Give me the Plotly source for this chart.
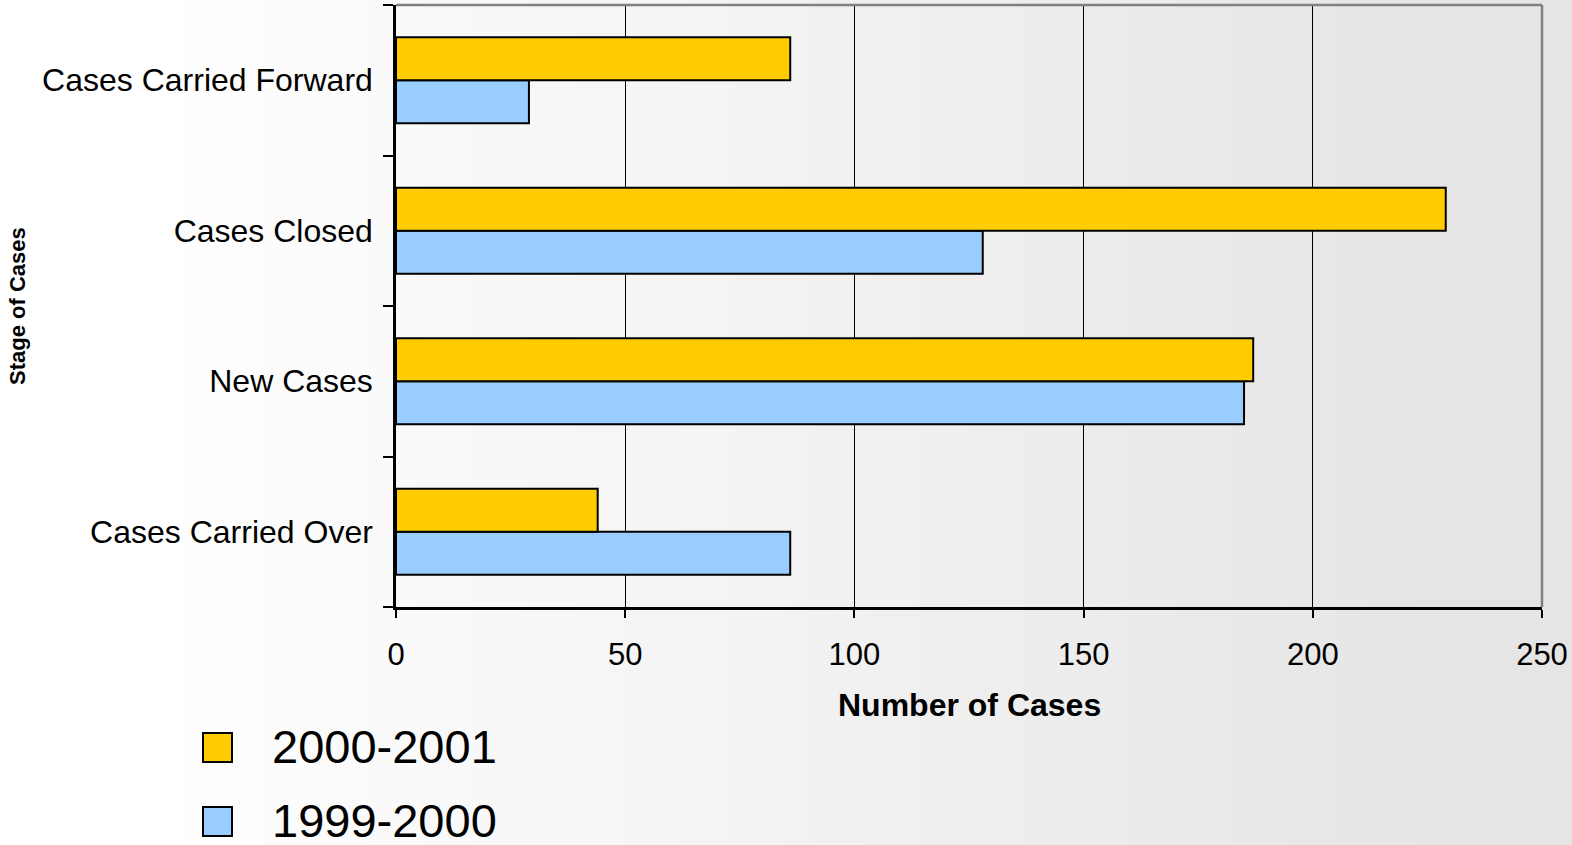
import plotly.graph_objects as go

# Case counts by stage, two reporting years
stages = ["Cases Carried Over", "New Cases", "Cases Closed", "Cases Carried Forward"]
cases_1999_2000 = [86, 185, 128, 29]
cases_2000_2001 = [44, 187, 229, 86]
series_names = ["1999-2000", "2000-2001"]
series_colors = ["#99ccff", "#ffcc00"]
x_ticks = [0, 50, 100, 150, 200, 250]

W, H = 1572, 845
ML, MR, MT, MB = 396, 30, 5, 238
PW, PH = W - ML - MR, H - MT - MB
FONT = "Liberation Sans, Arial, sans-serif"


def px_x(px):
    return (px - ML) / PW


def px_y(py):
    return (H - MB - py) / PH


fig = go.Figure()
for name, vals, col in zip(series_names, [cases_1999_2000, cases_2000_2001], series_colors):
    fig.add_trace(go.Bar(
        y=stages, x=vals, name=name, orientation="h",
        marker=dict(color=col, line=dict(color="black", width=2)),
        showlegend=False,
    ))

shapes = []
# soft horizontal background gradient across the whole page
n_strips = 60
for i in range(n_strips):
    x0 = i * W / n_strips
    x1 = (i + 1) * W / n_strips
    xm = (x0 + x1) / 2
    t = min(max((xm - 150) / 1300, 0), 1)
    v = round(255 - 26 * t)
    shapes.append(dict(type="rect", xref="paper", yref="paper",
                       x0=px_x(x0), x1=px_x(x1) + 0.001, y0=px_y(H + 5), y1=px_y(-5),
                       fillcolor=f"rgb({v},{v},{v})", line=dict(width=0), layer="below"))

# grey frame on the top and right of the plot area
shapes.append(dict(type="line", xref="x domain", yref="y domain", x0=0, x1=1, y0=1, y1=1,
                   line=dict(color="#808080", width=2.5)))
shapes.append(dict(type="line", xref="x domain", yref="y domain", x0=1, x1=1, y0=0, y1=1,
                   line=dict(color="#808080", width=2.5)))

# legend swatches
annotations = []
legend_rows = [(series_names[1], series_colors[1], 747.5), (series_names[0], series_colors[0], 821.5)]
for name, col, cy in legend_rows:
    shapes.append(dict(type="rect", xref="paper", yref="paper",
                       x0=px_x(203), x1=px_x(232), y0=px_y(cy + 14.5), y1=px_y(cy - 14.5),
                       fillcolor=col, line=dict(color="black", width=2)))
    annotations.append(dict(text=name, xref="paper", yref="paper", x=px_x(270), y=px_y(cy - 1),
                            xanchor="left", yanchor="middle", showarrow=False,
                            font=dict(family=FONT, size=47, color="black")))

annotations.append(dict(text="<b>Number of Cases</b>", xref="paper", yref="paper",
                        x=px_x(969), y=px_y(705), xanchor="center", yanchor="middle",
                        showarrow=False, font=dict(family=FONT, size=32, color="black")))
annotations.append(dict(text="<b>Stage of Cases</b>", xref="paper", yref="paper",
                        x=px_x(17), y=px_y(306), xanchor="center", yanchor="middle",
                        textangle=-90, showarrow=False,
                        font=dict(family=FONT, size=22, color="black")))

fig.update_layout(
    width=W, height=H,
    margin=dict(l=ML, r=MR, t=MT, b=MB, pad=0),
    paper_bgcolor="white",
    plot_bgcolor="rgba(0,0,0,0)",
    barmode="group", bargap=0.43, bargroupgap=0,
    font=dict(family=FONT, color="black"),
    shapes=shapes, annotations=annotations,
    showlegend=False,
)
fig.update_xaxes(
    range=[0, 250], tickvals=x_ticks, ticktext=[str(v) for v in x_ticks],
    showgrid=True, gridcolor="black", gridwidth=1,
    zeroline=False, showline=True, linecolor="black", linewidth=2.5,
    ticks="outside", ticklen=8, tickwidth=1.5, tickcolor="black",
    tickfont=dict(family=FONT, size=31, color="black"), ticklabelstandoff=10,
    fixedrange=True,
)
fig.update_yaxes(
    categoryorder="array", categoryarray=stages, range=[-0.5, 3.5],
    showgrid=False, zeroline=False, showline=True, linecolor="black", linewidth=2.5,
    ticks="outside", ticklen=10, tickwidth=2, tickcolor="black", tickson="boundaries",
    tickfont=dict(family=FONT, size=32, color="black"), ticklabelstandoff=14,
    fixedrange=True,
)

fig.write_html("out.html", config={"displayModeBar": False})
